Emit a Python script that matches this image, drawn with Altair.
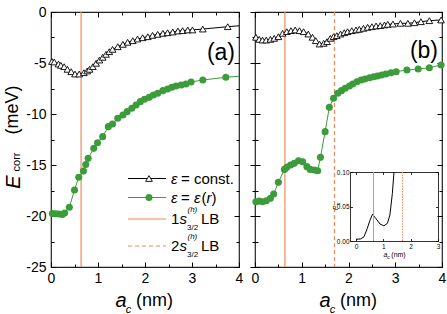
import altair as alt
import pandas as pd

FONT = "Liberation Sans"
ORANGE = "#ef8a5c"
GREEN = "#3c9c3c"

# ---------------- data ----------------
# panel (a): eps = const.
a_const_x = [0.02, 0.07, 0.16, 0.21, 0.28, 0.35, 0.43, 0.51, 0.60, 0.70, 0.77, 0.82,
             0.89, 0.96, 1.03, 1.10, 1.17, 1.24, 1.31, 1.42, 1.53, 1.63, 1.74, 1.84,
             1.95, 2.06, 2.16, 2.27, 2.38, 2.48, 2.59, 2.70, 2.80, 2.91, 3.01, 3.23,
             3.76, 4.00]
a_const_y = [-4.85, -4.90, -5.10, -5.23, -5.36, -5.62, -5.85, -6.08, -6.08, -5.95, -5.78, -5.62,
             -5.36, -5.03, -4.71, -4.44, -4.15, -3.89, -3.66, -3.40, -3.17, -2.97, -2.81, -2.65,
             -2.52, -2.42, -2.29, -2.19, -2.09, -2.03, -1.96, -1.86, -1.83, -1.76, -1.76, -1.67,
             -1.44, -1.35]
# panel (a): eps = eps(r)
a_eps_x = [0.03, 0.10, 0.17, 0.24, 0.29, 0.39, 0.50, 0.59, 0.69, 0.74, 0.79, 0.91,
           0.99, 1.10, 1.22, 1.31, 1.42, 1.53, 1.62, 1.72, 1.81, 1.90, 1.99, 2.09,
           2.18, 2.27, 2.38, 2.48, 2.57, 2.66, 2.77, 2.87, 2.98, 3.23, 3.72, 4.00]
a_eps_y = [-19.75, -19.78, -19.80, -19.85, -19.70, -19.15, -17.45, -16.20, -15.60, -14.95, -14.35, -13.37,
           -12.81, -12.22, -11.24, -10.98, -10.42, -10.10, -9.77, -9.44, -9.12, -8.79, -8.56, -8.37,
           -8.14, -7.97, -7.71, -7.55, -7.38, -7.25, -7.16, -7.06, -6.86, -6.67, -6.40, -6.30]

# panel (b): eps = const.
b_const_x = [0.02, 0.09, 0.16, 0.24, 0.33, 0.41, 0.50, 0.59, 0.68, 0.77, 0.86, 0.95,
             1.04, 1.14, 1.23, 1.30, 1.38, 1.47, 1.54, 1.61, 1.68, 1.75, 1.83, 1.91,
             1.98, 2.07, 2.16, 2.23, 2.32, 2.41, 2.50, 2.59, 2.68, 2.77, 2.84, 2.95,
             3.11, 3.27, 3.41, 3.55, 3.73, 3.98]
b_const_y = [-2.48, -2.68, -2.75, -2.75, -2.68, -2.58, -2.42, -2.09, -1.93, -1.83, -1.76, -1.83,
             -1.93, -2.16, -2.48, -2.81, -3.14, -3.07, -2.91, -2.58, -2.42, -2.32, -2.16, -2.03,
             -1.93, -1.83, -1.76, -1.70, -1.60, -1.50, -1.44, -1.37, -1.34, -1.27, -1.21, -1.18,
             -1.11, -1.11, -1.05, -0.95, -0.85, -0.78]
# panel (b): eps = eps(r)
b_eps_x = [0.02, 0.09, 0.16, 0.24, 0.33, 0.40, 0.50, 0.63, 0.68, 0.76, 0.84, 0.93,
           1.02, 1.11, 1.18, 1.27, 1.34, 1.40, 1.50, 1.59, 1.68, 1.77, 1.85, 1.93,
           2.02, 2.09, 2.18, 2.27, 2.35, 2.45, 2.54, 2.62, 2.71, 2.80, 2.91, 3.02,
           3.25, 3.49, 3.73, 3.98]
b_eps_y = [-18.60, -18.53, -18.60, -18.50, -18.27, -17.84, -16.70, -15.43, -15.23, -15.00, -14.84, -14.58,
           -14.68, -15.16, -15.43, -15.49, -15.56, -14.25, -11.73, -9.35, -8.46, -7.97, -7.71, -7.48,
           -7.25, -7.06, -6.83, -6.67, -6.57, -6.44, -6.34, -6.27, -6.18, -6.08, -5.95, -5.85,
           -5.69, -5.59, -5.46, -5.20]

lb_1s = [0.64]
lb_2s = [1.70]

# inset: P vs a_c
inset_x = [0.00, 0.17, 0.29, 0.41, 0.51, 0.60, 0.72, 0.88, 1.02, 1.15, 1.24, 1.33, 1.39]
inset_y = [0.0025, 0.003, 0.006, 0.018, 0.030, 0.0386, 0.033, 0.0246, 0.022, 0.0256, 0.0377, 0.069, 0.10]

# ---------------- layout ----------------
W_A, W_B, H = 188, 187, 255

xs = alt.Scale(domain=[0, 4], nice=False, zero=False)
ys = alt.Scale(domain=[-25, 0], nice=False, zero=False)
X_HALF = [i * 0.5 for i in range(9)]
Y_QUART = [-25 + 2.5 * i for i in range(11)]
TS_X = {"condition": {"test": "datum.value % 1 == 0", "value": 5}, "value": 3}
TS_Y = {"condition": {"test": "datum.value % 5 == 0", "value": 5}, "value": 3}


def ax(**kw):
    base = dict(title=None, grid=False, labelFont=FONT, labelColor="black",
                tickColor="black", domain=False)
    base.update(kw)
    return alt.Axis(**base)


def txt(s, x, y, size, style="normal", angle=0, align="left", baseline="alphabetic"):
    return alt.Chart(alt.Data(values=[{}])).mark_text(
        text=s, font=FONT, fontSize=size, fontStyle=style, angle=angle,
        align=align, baseline=baseline, color="black"
    ).encode(x=alt.value(x), y=alt.value(y))


def xtitle():
    return [
        txt("a", 70, 295, 20, style="italic", align="center"),
        txt("c", 77.5, 301, 11, style="italic", align="center"),
        txt("(nm)", 103.5, 294, 18, align="center"),
    ]


def main_layers(cx, cy, ex, ey, W, show_y_labels, dashed):
    dc = pd.DataFrame({"x": cx, "y": cy})
    de = pd.DataFrame({"x": ex, "y": ey})
    x_lab = ax(orient="bottom", values=[0, 1, 2, 3, 4], labelExpr="datum.value + ''",
               labelFontSize=14, ticks=False, tickSize=0, labelPadding=4,
               labelFlush=False, labelOverlap=False)
    if show_y_labels:
        y_lab = ax(orient="left", values=[-25, -20, -15, -10, -5, 0],
                   labelExpr="datum.value + ''", labelFontSize=14, ticks=False,
                   tickSize=0, labelPadding=5, labelOverlap=False)
    else:
        y_lab = ax(orient="left", values=Y_QUART, labels=False, tickSize=TS_Y)
    x_in_bottom = ax(orient="top", offset=-H, values=X_HALF, labels=False, tickSize=TS_X)
    y_in_left = ax(orient="right", offset=-W, values=Y_QUART, labels=False, tickSize=TS_Y)
    x_in_top = ax(orient="bottom", offset=-H, values=X_HALF, labels=False, tickSize=TS_X)
    y_in_right = ax(orient="left", offset=-W, values=Y_QUART, labels=False, tickSize=TS_Y)

    layers = [
        alt.Chart(pd.DataFrame({"x": lb_1s})).mark_rule(color=ORANGE, strokeWidth=1.2)
        .encode(x=alt.X("x:Q", scale=xs, axis=None)),
    ]
    if dashed:
        layers.append(
            alt.Chart(pd.DataFrame({"x": lb_2s})).mark_rule(color=ORANGE, strokeWidth=1.2,
                                                            strokeDash=[4, 3])
            .encode(x=alt.X("x:Q", scale=xs, axis=None)))
    layers += [
        alt.Chart(dc).mark_line(color="black", strokeWidth=1)
        .encode(x=alt.X("x:Q", scale=xs, axis=x_lab), y=alt.Y("y:Q", scale=ys, axis=y_lab)),
        alt.Chart(dc).transform_filter("datum.x < 3.99")
        .mark_point(shape="triangle-up", filled=True, fill="white", stroke="black",
                    strokeWidth=0.9, size=45, opacity=1)
        .encode(x=alt.X("x:Q", scale=xs, axis=x_in_bottom),
                y=alt.Y("y:Q", scale=ys, axis=y_in_left)),
        alt.Chart(de).mark_line(color=GREEN, strokeWidth=1)
        .encode(x=alt.X("x:Q", scale=xs, axis=x_in_top),
                y=alt.Y("y:Q", scale=ys, axis=y_in_right)),
        alt.Chart(de).transform_filter("datum.x < 3.99")
        .mark_circle(color=GREEN, size=50, opacity=1)
        .encode(x=alt.X("x:Q", scale=xs, axis=None), y=alt.Y("y:Q", scale=ys, axis=None)),
    ]
    return layers


# ---------------- panel (a) ----------------
legend = [
    alt.Chart(alt.Data(values=[{}])).mark_rule(color="black", strokeWidth=1)
    .encode(x=alt.value(77), x2=alt.value(115), y=alt.value(166.5)),
    alt.Chart(alt.Data(values=[{}])).mark_point(shape="triangle-up", filled=True, fill="white",
                                               stroke="black", strokeWidth=0.9, size=45, opacity=1)
    .encode(x=alt.value(98), y=alt.value(166.5)),
    alt.Chart(alt.Data(values=[{}])).mark_rule(color=GREEN, strokeWidth=1)
    .encode(x=alt.value(77), x2=alt.value(115), y=alt.value(185.5)),
    alt.Chart(alt.Data(values=[{}])).mark_circle(color=GREEN, size=50, opacity=1)
    .encode(x=alt.value(98), y=alt.value(185.5)),
    alt.Chart(alt.Data(values=[{}])).mark_rule(color=ORANGE, strokeWidth=1.2)
    .encode(x=alt.value(77), x2=alt.value(115), y=alt.value(207)),
    alt.Chart(alt.Data(values=[{}])).mark_rule(color=ORANGE, strokeWidth=1.2, strokeDash=[4, 3])
    .encode(x=alt.value(77), x2=alt.value(115), y=alt.value(234)),
    txt("ε", 120, 166.5, 15, style="italic", baseline="middle"),
    txt("= const.", 130, 166.5, 15, baseline="middle"),
    txt("ε", 120, 185.5, 15, style="italic", baseline="middle"),
    txt("=", 130, 185.5, 15, baseline="middle"),
    txt("ε", 143, 185.5, 15, style="italic", baseline="middle"),
    txt("(", 150.5, 185.5, 15, baseline="middle"),
    txt("r", 155.5, 185.5, 15, style="italic", baseline="middle"),
    txt(")", 160.5, 185.5, 15, baseline="middle"),
]
for i, (num, yy) in enumerate([("1", 207), ("2", 234)]):
    legend += [
        txt(num, 120, yy, 15, baseline="middle"),
        txt("s", 128.5, yy, 15, style="italic", baseline="middle"),
        txt("(h)", 136.5, yy - 9, 8, style="italic", baseline="middle"),
        txt("3/2", 136, yy + 8.5, 8, baseline="middle"),
        txt("LB", 150, yy, 15, baseline="middle"),
    ]

ytitle = [
    txt("E", -37.5, 170, 20, style="italic", angle=270, align="center", baseline="middle"),
    txt("corr", -34, 150, 11, angle=270, align="center", baseline="middle"),
    txt("(meV)", -38, 98, 18, angle=270, align="center", baseline="middle"),
]

panel_a = alt.layer(
    *main_layers(a_const_x, a_const_y, a_eps_x, a_eps_y, W_A, True, False),
    *legend, *ytitle, *xtitle(),
    txt("(a)", W_A - 4, 41, 23, align="right", baseline="middle"),
).resolve_axis(x="independent", y="independent").properties(width=W_A, height=H)

# ---------------- panel (b) ----------------
main_b = alt.layer(
    *main_layers(b_const_x, b_const_y, b_eps_x, b_eps_y, W_B, False, True),
    *xtitle(),
    txt("(b)", W_B - 4, 39, 23, align="right", baseline="middle"),
).resolve_axis(x="independent", y="independent")

ixs = alt.Scale(domain=[-0.22, 3.0], range=[95, 183], nice=False, zero=False)
iys = alt.Scale(domain=[0, 0.10], range=[229, 160], nice=False, zero=False)
ix_lab = ax(orient="bottom", offset=229 - H, values=[0, 1, 2, 3], labelFontSize=6.5,
            labelExpr="datum.value + ''", ticks=False, tickSize=0, labelPadding=2,
            domain=True, domainColor="black", domainWidth=0.8,
            labelFlush=False, labelOverlap=False)
ix_in_b = ax(orient="top", offset=-229, values=[0, 1, 2, 3], labels=False, tickSize=2.5,
             tickWidth=0.8)
ix_top = ax(orient="bottom", offset=160 - H, values=[0, 1, 2, 3], labels=False, tickSize=2.5,
            tickWidth=0.8, domain=True, domainColor="black", domainWidth=0.8)
iy_lab = ax(orient="left", offset=-95, values=[0, 0.05, 0.10], format=".2f", labelFontSize=6.5,
            ticks=False, tickSize=0, labelPadding=1, domain=True, domainColor="black",
            domainWidth=0.8, labelOverlap=False)
iy_in_l = ax(orient="right", offset=95 - W_B, values=[0, 0.05, 0.10], labels=False,
             tickSize=2.5, tickWidth=0.8)
iy_right = ax(orient="left", offset=-183, values=[0, 0.05, 0.10], labels=False, tickSize=2.5,
              tickWidth=0.8, domain=True, domainColor="black", domainWidth=0.8)

inset = alt.layer(
    alt.Chart(pd.DataFrame({"x": inset_x, "y": inset_y})).mark_line(color="black", strokeWidth=1)
    .encode(x=alt.X("x:Q", scale=ixs, axis=ix_lab), y=alt.Y("y:Q", scale=iys, axis=iy_lab)),
    alt.Chart(pd.DataFrame({"x": lb_1s})).mark_rule(color=ORANGE, strokeWidth=1)
    .encode(x=alt.X("x:Q", scale=ixs, axis=ix_in_b),
            y=alt.Y(datum=0, type="quantitative", scale=iys, axis=iy_in_l),
            y2=alt.Y2(datum=0.10)),
    alt.Chart(pd.DataFrame({"x": lb_2s})).mark_rule(color=ORANGE, strokeWidth=1,
                                                    strokeDash=[1.5, 1.2])
    .encode(x=alt.X("x:Q", scale=ixs, axis=ix_top),
            y=alt.Y(datum=0, type="quantitative", scale=iys, axis=iy_right),
            y2=alt.Y2(datum=0.10)),
    txt("a", 130.5, 245, 7, style="italic", align="center"),
    txt("c", 133.5, 247, 5, style="italic", align="center"),
    txt("(nm)", 143.5, 245, 7, align="center"),
    txt("P", 81, 196, 7, style="italic", angle=270, align="center", baseline="middle"),
    txt("s", 83, 192, 5, style="italic", angle=270, align="center", baseline="middle"),
).resolve_axis(x="independent", y="independent")

panel_b = alt.layer(main_b, inset).resolve_scale(
    x="independent", y="independent").properties(width=W_B, height=H)

chart = alt.hconcat(panel_a, panel_b, spacing=16, bounds="flush").properties(
    padding={"left": 2, "top": 4, "right": 0, "bottom": 0}
).configure_view(stroke="#222222", strokeWidth=1.2)

chart.save("out.html", embed_options={"renderer": "svg", "actions": False})
